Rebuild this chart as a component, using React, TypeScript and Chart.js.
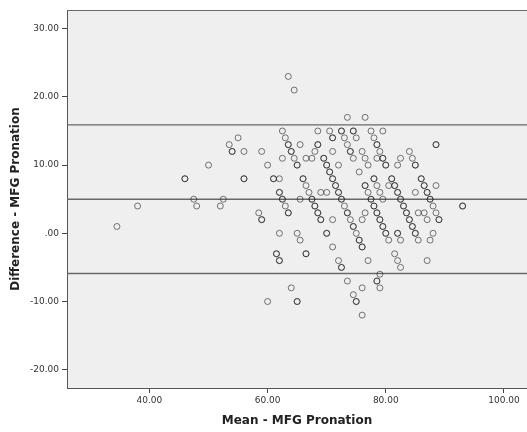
import React, { useEffect, useRef } from 'react';
import { Chart, registerables } from 'chart.js';

Chart.register(...registerables);

// Mean of the two measurements (x) and their difference (y), one entry per case
const meanValues: number[] = [
  63.5,
  64.5,
  73.5, 76.5,
  62.5, 68.5, 70.5, 72.5, 72.5, 74.5, 74.5, 77.5, 79.5,
  55, 63, 71, 71, 73, 75, 78,
  53.5, 63.5, 63.5, 65.5, 68.5, 68.5, 73.5, 78.5, 78.5, 88.5, 88.5,
  54, 54, 56, 59, 64, 64, 68, 71, 74, 74, 76, 79, 84,
  62.5, 64.5, 66.5, 67.5, 69.5, 69.5, 74.5, 76.5, 78.5, 79.5, 79.5, 82.5, 84.5,
  50, 60, 65, 65, 70, 70, 72, 77, 80, 80, 82, 85, 85,
  70.5, 70.5, 75.5,
  46, 46, 56, 56, 61, 61, 62, 66, 66, 71, 71, 78, 78, 81, 81, 86, 86,
  66.5, 71.5, 71.5, 76.5, 76.5, 78.5, 80.5, 81.5, 81.5, 86.5, 86.5, 88.5,
  62, 62, 67, 69, 70, 72, 72, 77, 79, 82, 82, 85, 87, 87,
  47.5, 52.5, 62.5, 62.5, 65.5, 67.5, 67.5, 72.5, 72.5, 77.5, 77.5, 79.5, 82.5, 82.5, 87.5, 87.5,
  38, 48, 52, 63, 68, 68, 73, 78, 78, 83, 83, 88, 93, 93,
  58.5, 63.5, 63.5, 68.5, 68.5, 73.5, 73.5, 76.5, 78.5, 78.5, 83.5, 83.5, 85.5, 86.5, 88.5,
  59, 59, 69, 69, 71, 74, 76, 79, 79, 84, 84, 87, 89, 89,
  34.5, 74.5, 74.5, 79.5, 79.5, 84.5, 84.5,
  62, 65, 70, 70, 75, 80, 80, 82, 82, 85, 85, 88,
  65.5, 75.5, 75.5, 80.5, 82.5, 85.5, 87.5,
  71, 76, 76,
  61.5, 61.5, 66.5, 66.5, 81.5,
  62, 62, 72, 77, 82, 87,
  72.5, 72.5, 82.5,
  79,
  73.5, 78.5, 78.5,
  64, 76, 79,
  74.5,
  60, 65, 65, 75, 75,
  76,
];

const diffValues: number[] = [
  23,
  21,
  17, 17,
  15, 15, 15, 15, 15, 15, 15, 15, 15,
  14, 14, 14, 14, 14, 14, 14,
  13, 13, 13, 13, 13, 13, 13, 13, 13, 13, 13,
  12, 12, 12, 12, 12, 12, 12, 12, 12, 12, 12, 12, 12,
  11, 11, 11, 11, 11, 11, 11, 11, 11, 11, 11, 11, 11,
  10, 10, 10, 10, 10, 10, 10, 10, 10, 10, 10, 10, 10,
  9, 9, 9,
  8, 8, 8, 8, 8, 8, 8, 8, 8, 8, 8, 8, 8, 8, 8, 8, 8,
  7, 7, 7, 7, 7, 7, 7, 7, 7, 7, 7, 7,
  6, 6, 6, 6, 6, 6, 6, 6, 6, 6, 6, 6, 6, 6,
  5, 5, 5, 5, 5, 5, 5, 5, 5, 5, 5, 5, 5, 5, 5, 5,
  4, 4, 4, 4, 4, 4, 4, 4, 4, 4, 4, 4, 4, 4,
  3, 3, 3, 3, 3, 3, 3, 3, 3, 3, 3, 3, 3, 3, 3,
  2, 2, 2, 2, 2, 2, 2, 2, 2, 2, 2, 2, 2, 2,
  1, 1, 1, 1, 1, 1, 1,
  0, 0, 0, 0, 0, 0, 0, 0, 0, 0, 0, 0,
  -1, -1, -1, -1, -1, -1, -1,
  -2, -2, -2,
  -3, -3, -3, -3, -3,
  -4, -4, -4, -4, -4, -4,
  -5, -5, -5,
  -6,
  -7, -7, -7,
  -8, -8, -8,
  -9,
  -10, -10, -10, -10, -10,
  -12,
];

const xTickValues = [40, 60, 80, 100];
const yTickValues = [-20, -10, 0, 10, 20, 30];
const xRange = [26.05, 103.9];
const yRange = [-22.68, 32.74];
const meanDifference = 5.0;
const upperLimit = 15.9;
const lowerLimit = -5.9;

const xTitle = 'Mean - MFG Pronation';
const yTitle = 'Difference - MFG Pronation';

export default function App() {
  const canvasRef = useRef<HTMLCanvasElement | null>(null);

  useEffect(() => {
    const canvas = canvasRef.current;
    if (!canvas) return;

    const points = meanValues.map((m, i) => ({ x: m, y: diffValues[i] }));
    const hLine = (v: number) => [
      { x: xRange[0], y: v },
      { x: xRange[1], y: v },
    ];

    const framePlugin = {
      id: 'frame',
      beforeDraw(chart: any) {
        const { ctx, chartArea } = chart;
        ctx.save();
        ctx.fillStyle = '#ffffff';
        ctx.fillRect(0, 0, chart.width, chart.height);
        ctx.fillStyle = '#efefef';
        ctx.fillRect(chartArea.left, chartArea.top, chartArea.right - chartArea.left, chartArea.bottom - chartArea.top);
        ctx.restore();
      },
      afterDraw(chart: any) {
        const { ctx, chartArea } = chart;
        ctx.save();
        ctx.strokeStyle = '#6a6a6a';
        ctx.lineWidth = 1;
        ctx.beginPath();
        ctx.moveTo(chartArea.left, chartArea.top + 0.5);
        ctx.lineTo(chartArea.right, chartArea.top + 0.5);
        ctx.stroke();
        ctx.restore();
      },
    };

    const lineStyle = {
      type: 'line' as const,
      showLine: true,
      pointRadius: 0,
      borderColor: '#686868',
      borderWidth: 1.4,
      fill: false,
      order: 2,
    };

    const chart = new Chart(canvas, {
      type: 'scatter',
      data: {
        datasets: [
          { ...lineStyle, label: 'upper', data: hLine(upperLimit) },
          { ...lineStyle, label: 'mean', data: hLine(meanDifference) },
          { ...lineStyle, label: 'lower', data: hLine(lowerLimit) },
          {
            type: 'scatter',
            label: 'cases',
            data: points,
            pointStyle: 'circle',
            pointRadius: 3,
            pointBorderWidth: 1,
            pointBackgroundColor: 'rgba(0,0,0,0)',
            pointBorderColor: 'rgba(25,25,25,0.58)',
            order: 1,
          } as any,
        ],
      },
      options: {
        animation: false,
        responsive: false,
        devicePixelRatio: 1,
        layout: { autoPadding: false, padding: { top: 10, left: 0, right: 0, bottom: 0 } },
        plugins: {
          legend: { display: false },
          tooltip: { enabled: false },
        },
        scales: {
          x: {
            type: 'linear',
            min: xRange[0],
            max: xRange[1],
            afterBuildTicks: (s: any) => {
              s.ticks = xTickValues.map((v) => ({ value: v }));
            },
            afterFit: (s: any) => {
              s.height = 44;
              s.paddingLeft = 0;
              s.paddingRight = 0;
            },
            grid: { drawOnChartArea: false, drawTicks: true, tickLength: 5, color: '#444' },
            border: { display: true, color: '#555', width: 1 },
            ticks: {
              padding: 2,
              color: '#333',
              maxRotation: 0,
              autoSkip: false,
              font: { family: 'DejaVu Sans', size: 9 },
              callback: (v: any) => (Number(v) === 0 ? '.00' : Number(v).toFixed(2)),
            },
            title: {
              display: true,
              text: xTitle,
              color: '#222',
              font: { family: 'DejaVu Sans', size: 12, weight: 'bold' },
              padding: { top: 0, bottom: 4 },
            },
          },
          y: {
            type: 'linear',
            min: yRange[0],
            max: yRange[1],
            afterBuildTicks: (s: any) => {
              s.ticks = yTickValues.map((v) => ({ value: v }));
            },
            afterFit: (s: any) => {
              s.width = 67;
              s.paddingTop = 0;
              s.paddingBottom = 0;
            },
            grid: { drawOnChartArea: false, drawTicks: true, tickLength: 5, color: '#444' },
            border: { display: true, color: '#555', width: 1 },
            ticks: {
              padding: 3,
              color: '#333',
              autoSkip: false,
              font: { family: 'DejaVu Sans', size: 9 },
              callback: (v: any) => (Number(v) === 0 ? '.00' : Number(v).toFixed(2)),
            },
            title: {
              display: true,
              text: yTitle,
              color: '#222',
              font: { family: 'DejaVu Sans', size: 12, weight: 'bold' },
              padding: { top: 9, bottom: 0 },
            },
          },
        },
      },
      plugins: [framePlugin],
    });

    return () => {
      chart.destroy();
    };
  }, []);

  return (
    <div style={{ position: 'absolute', left: 0, top: 0, width: 527, height: 432, background: '#fff' }}>
      <canvas ref={canvasRef} width={527} height={432} style={{ display: 'block' }} />
    </div>
  );
}
